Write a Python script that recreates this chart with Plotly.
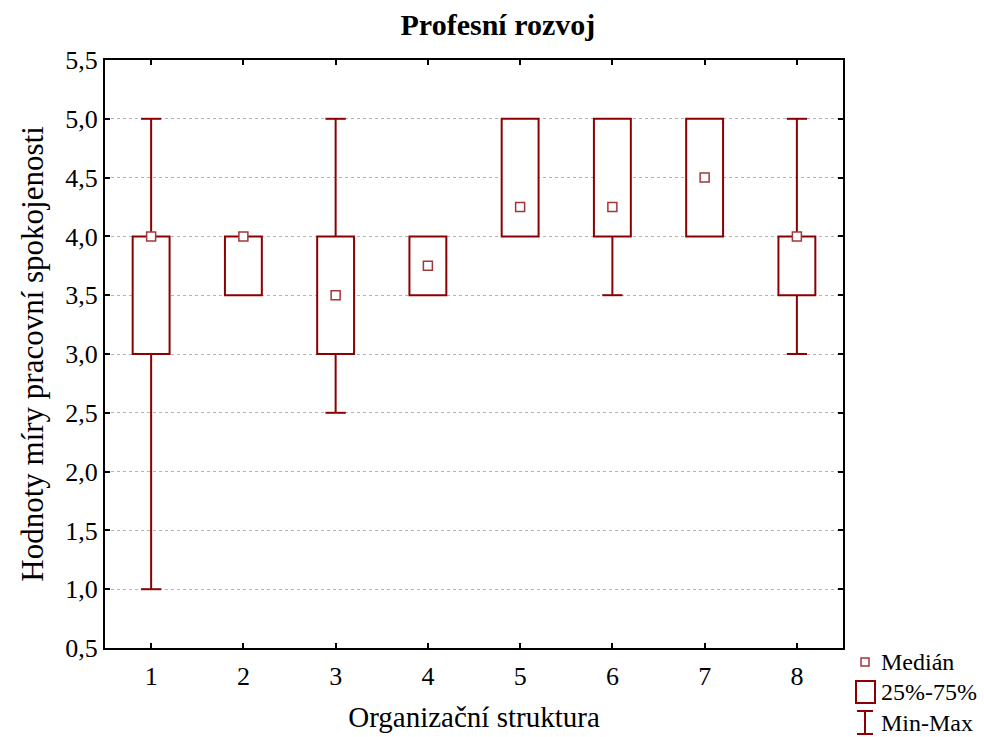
import plotly.graph_objects as go

categories = [1, 2, 3, 4, 5, 6, 7, 8]
mins    = [1.0, 3.5, 2.5, 3.5, 4.0, 3.5, 4.0, 3.0]
q1s     = [3.0, 3.5, 3.0, 3.5, 4.0, 4.0, 4.0, 3.5]
medians = [4.0, 4.0, 3.5, 3.75, 4.25, 4.25, 4.5, 4.0]
q3s     = [4.0, 4.0, 4.0, 4.0, 5.0, 5.0, 5.0, 4.0]
maxs    = [5.0, 4.0, 5.0, 4.0, 5.0, 5.0, 5.0, 5.0]
y_ticks = [0.5, 1.0, 1.5, 2.0, 2.5, 3.0, 3.5, 4.0, 4.5, 5.0, 5.5]
y_labels = [f"{v:.1f}".replace(".", ",") for v in y_ticks]

RED = "#8b0000"
FONT = "Liberation Serif"
BOX_W = 0.4
CAP_HALF = 0.11

fig = go.Figure()

# Whiskers
wx, wy = [], []
for c, lo, a, b, hi in zip(categories, mins, q1s, q3s, maxs):
    if hi > b:
        wx += [c, c, None, c - CAP_HALF, c + CAP_HALF, None]
        wy += [b, hi, None, hi, hi, None]
    if lo < a:
        wx += [c, c, None, c - CAP_HALF, c + CAP_HALF, None]
        wy += [a, lo, None, lo, lo, None]
fig.add_trace(go.Scatter(x=wx, y=wy, mode="lines", line=dict(color=RED, width=2),
                         showlegend=False, hoverinfo="skip"))

# Boxes
fig.add_trace(go.Bar(x=categories, y=[b - a for a, b in zip(q1s, q3s)], base=q1s,
                     width=BOX_W, marker=dict(color="white", line=dict(color=RED, width=2)),
                     showlegend=False))

# Medians
fig.add_trace(go.Scatter(x=categories, y=medians, mode="markers",
                         marker=dict(symbol="square", size=9, color="white",
                                     line=dict(color="#a0383a", width=1.5)),
                         showlegend=False))

# Manual legend (paper coords; plot area is 105..843 x 60..648 px)
def fx(p):
    return (p - 105) / 738
def fy(p):
    return (648 - p) / 588

shapes = []
shapes.append(dict(type="rect", xref="paper", yref="paper",
                   x0=fx(861), x1=fx(869), y0=fy(666), y1=fy(658),
                   line=dict(color="#a0383a", width=1.5), fillcolor="white"))
shapes.append(dict(type="rect", xref="paper", yref="paper",
                   x0=fx(856), x1=fx(875), y0=fy(703), y1=fy(681),
                   line=dict(color=RED, width=2), fillcolor="white"))
for (x0, y0, x1, y1) in [(865, 711, 865, 734), (857, 711, 873, 711), (857, 734, 873, 734)]:
    shapes.append(dict(type="line", xref="paper", yref="paper",
                       x0=fx(x0), x1=fx(x1), y0=fy(y0), y1=fy(y1),
                       line=dict(color=RED, width=2)))

annotations = []
for text, yc in [("Medián", 662), ("25%-75%", 692), ("Min-Max", 723)]:
    annotations.append(dict(text=text, xref="paper", yref="paper",
                            x=fx(879), y=fy(yc),
                            xanchor="left", yanchor="middle", showarrow=False,
                            font=dict(family=FONT, size=24, color="black")))

fig.update_layout(
    width=984, height=737,
    margin=dict(l=105, r=141, t=60, b=89),
    paper_bgcolor="white", plot_bgcolor="white",
    font=dict(family=FONT, color="black", size=26),
    title=dict(text="<b>Profesní rozvoj</b>", x=0.506, xanchor="center",
               y=0.967, yanchor="middle", font=dict(family=FONT, size=30)),
    showlegend=False,
    shapes=shapes, annotations=annotations,
    barmode="overlay",
    xaxis=dict(range=[0.5, 8.5], tickmode="array", tickvals=categories,
               ticktext=[str(c) for c in categories], automargin=False,
               showgrid=False, zeroline=False, showline=True, linecolor="black",
               linewidth=2, mirror="ticks", ticks="inside", ticklen=5, tickwidth=1.5,
               tickcolor="black", tickfont=dict(size=26), ticklabelstandoff=4,
               title=dict(text="Organizační struktura", font=dict(size=29), standoff=16)),
    yaxis=dict(range=[0.5, 5.5], tickmode="array", tickvals=y_ticks, ticktext=y_labels,
               automargin=False,
               showgrid=True, gridcolor="#b4b4b4", griddash="dot", gridwidth=1,
               zeroline=False, showline=True, linecolor="black", linewidth=2,
               mirror="ticks", ticks="inside", ticklen=5, tickwidth=1.5, tickcolor="black",
               tickfont=dict(size=26),
               title=dict(text="Hodnoty míry pracovní spokojenosti", font=dict(size=31), standoff=12)),
)

fig.write_html("out.html")
